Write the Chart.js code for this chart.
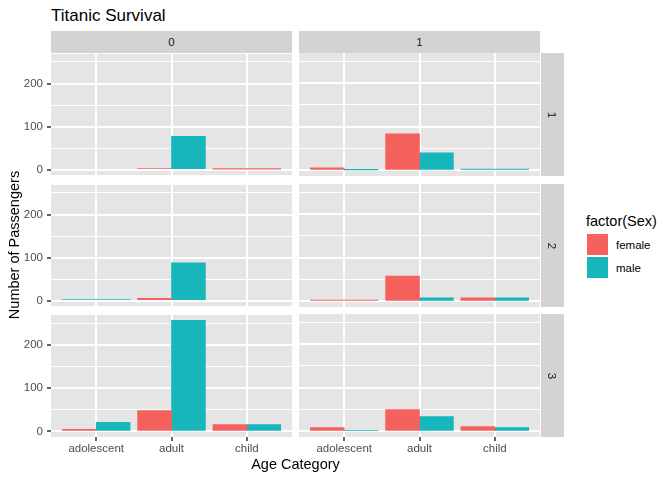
<!DOCTYPE html>
<html><head><meta charset="utf-8">
<script src="https://cdn.jsdelivr.net/npm/chart.js@4.4.1/dist/chart.umd.min.js"></script>
<style>
html,body{margin:0;padding:0;background:#fff;}
#fig{position:relative;width:672px;height:480px;overflow:hidden;background:#fff;font-family:'Liberation Sans',Arial,Helvetica,sans-serif;color:#000;}
#fig canvas{position:absolute;}
.box{position:absolute;display:flex;align-items:center;justify-content:center;white-space:nowrap;}
</style></head><body><div id="fig"></div>
<script>
// ---------- data ----------
const categories = ['adolescent', 'adult', 'child'];
const survivedLevels = ['0', '1'];
const pclassLevels = ['1', '2', '3'];
const sexLevels = ['female', 'male'];
const yTickLabels = [0, 100, 200];

// counts by panel: Pclass (row) x Survived (column), per age category
const female_p1_s0 = [null, 2, 1];
const female_p1_s1 = [6, 84, null];
const female_p2_s0 = [null, 5, null];
const female_p2_s1 = [3, 58, 8];
const female_p3_s0 = [5, 48, 16];
const female_p3_s1 = [9, 50, 11];

const male_p1_s0 = [null, 77, null];
const male_p1_s1 = [1, 40, 3];
const male_p2_s0 = [2, 88, null];
const male_p2_s1 = [null, 8, 8];
const male_p3_s0 = [21, 256, 16];
const male_p3_s1 = [2, 34, 9];

const femaleGrid = [[female_p1_s0, female_p1_s1], [female_p2_s0, female_p2_s1], [female_p3_s0, female_p3_s1]];
const maleGrid = [[male_p1_s0, male_p1_s1], [male_p2_s0, male_p2_s1], [male_p3_s0, male_p3_s1]];

// ---------- styles / layout ----------
const PANEL_BG = '#E5E5E5', STRIP_BG = '#D3D3D3';
const RED = '#F5615C', TEAL = '#17B6BB';
const colLeft = [51, 299], panelW = 241;
const rowTop = [53, 184, 314], panelH = 123;
const PAD = 10, YAXW = 51, XAXH = 24;
const X_MIN = 0.4, X_MAX = 3.6, Y_MIN = -12.8, Y_MAX = 268.8;
const DODGE = 0.45;
const FONT = "'Liberation Sans', Arial, Helvetica, sans-serif";
Chart.defaults.font.family = FONT;

const fig = document.getElementById('fig');

function addBox(text, left, top, width, height, css) {
  const d = document.createElement('div');
  d.className = 'box';
  d.style.left = left + 'px'; d.style.top = top + 'px';
  d.style.width = width + 'px'; d.style.height = height + 'px';
  Object.assign(d.style, css || {});
  if (text !== null) {
    const s = document.createElement('span');
    s.textContent = text;
    if (css && css.rot) s.style.transform = 'rotate(' + css.rot + ')';
    d.appendChild(s);
  }
  fig.appendChild(d);
  return d;
}

const panelBgPlugin = {
  id: 'panelBg',
  beforeDraw(chart) {
    const { ctx, chartArea: a } = chart;
    ctx.save();
    ctx.fillStyle = PANEL_BG;
    ctx.fillRect(a.left, a.top, a.right - a.left, a.bottom - a.top);
    ctx.restore();
  }
};

function thickness(units) {
  return ctx => {
    const s = ctx.chart.scales && ctx.chart.scales.x;
    return s ? Math.abs(s.getPixelForValue(X_MIN + units) - s.getPixelForValue(X_MIN)) : 10;
  };
}

function panelDatasets(f, m) {
  const fHalf = [], mHalf = [], fFull = [], mFull = [];
  categories.forEach((c, i) => {
    const x = i + 1, fv = f[i], mv = m[i];
    if (fv != null && mv != null) {
      fHalf.push({ x: x - DODGE / 2, y: fv });
      mHalf.push({ x: x + DODGE / 2, y: mv });
    } else if (fv != null) {
      fFull.push({ x: x, y: fv });
    } else if (mv != null) {
      mFull.push({ x: x, y: mv });
    }
  });
  return [
    { label: sexLevels[0], data: fHalf, backgroundColor: RED, barThickness: thickness(DODGE) },
    { label: sexLevels[1], data: mHalf, backgroundColor: TEAL, barThickness: thickness(DODGE) },
    { label: sexLevels[0], data: fFull, backgroundColor: RED, barThickness: thickness(2 * DODGE) },
    { label: sexLevels[1], data: mFull, backgroundColor: TEAL, barThickness: thickness(2 * DODGE) }
  ].map(d => Object.assign(d, { grouped: false, borderWidth: 0 }));
}

function makePanel(r, c) {
  const isLeft = c === 0, isBottom = r === pclassLevels.length - 1;
  const axW = isLeft ? YAXW : 0, axH = isBottom ? XAXH : 0;
  const w = panelW + axW + 2 * PAD, h = panelH + axH + 2 * PAD;
  const canvas = document.createElement('canvas');
  canvas.width = w; canvas.height = h;
  canvas.style.width = w + 'px'; canvas.style.height = h + 'px';
  canvas.style.left = (colLeft[c] - axW - PAD) + 'px';
  canvas.style.top = (rowTop[r] - PAD) + 'px';
  fig.appendChild(canvas);
  new Chart(canvas, {
    type: 'bar',
    data: { datasets: panelDatasets(femaleGrid[r][c], maleGrid[r][c]) },
    options: {
      responsive: false, animation: false, devicePixelRatio: 1,
      layout: { padding: PAD },
      plugins: { legend: { display: false }, tooltip: { enabled: false } },
      scales: {
        x: {
          type: 'linear', min: X_MIN, max: X_MAX, offset: false,
          grid: { offset: false, color: '#FFFFFF', lineWidth: 2, drawTicks: isBottom, tickLength: 4, tickColor: '#333333', tickWidth: 1.5 },
          border: { display: false },
          ticks: { display: isBottom, stepSize: 1, includeBounds: false, autoSkip: false, maxRotation: 0, minRotation: 0, padding: 1, color: '#4D4D4D', font: { size: 11.5 },
            callback: v => categories[v - 1] !== undefined ? categories[v - 1] : '' },
          afterFit: s => { s.height = axH; }
        },
        y: {
          type: 'linear', min: Y_MIN, max: Y_MAX,
          grid: { color: '#FFFFFF',
            lineWidth: ctx => (ctx.tick && yTickLabels.includes(ctx.tick.value)) ? 2 : 1,
            drawTicks: isLeft, tickLength: 4,
            tickColor: ctx => (ctx.tick && yTickLabels.includes(ctx.tick.value)) ? '#333333' : 'rgba(0,0,0,0)',
            tickWidth: 1.5 },
          border: { display: false },
          ticks: { display: isLeft, stepSize: 50, includeBounds: false, autoSkip: false, padding: 4, color: '#4D4D4D', font: { size: 11.5 },
            callback: v => yTickLabels.includes(v) ? String(v) : '' },
          afterFit: s => { s.width = axW; }
        }
      }
    },
    plugins: [panelBgPlugin]
  });
}

for (let r = 0; r < pclassLevels.length; r++)
  for (let c = 0; c < survivedLevels.length; c++) makePanel(r, c);

// strips
survivedLevels.forEach((lab, c) => {
  addBox(lab, colLeft[c], 31, panelW, 22, { background: STRIP_BG, color: '#1A1A1A', fontSize: '11.5px' });
});
pclassLevels.forEach((lab, r) => {
  addBox(lab, 541, rowTop[r], 23, panelH, { background: STRIP_BG, color: '#1A1A1A', fontSize: '11.5px', rot: '90deg' });
});

// title and axis titles
addBox('Titanic Survival', 51, 2, 300, 28, { justifyContent: 'flex-start', fontSize: '17px', lineHeight: '28px' });
addBox('Age Category', colLeft[0], 454, colLeft[1] + panelW - colLeft[0], 20, { fontSize: '14.5px' });
addBox('Number of Passengers', 14 - 150, 245 - 10, 300, 20, { fontSize: '14.5px', transform: 'rotate(-90deg)' });

// legend
addBox('factor(Sex)', 586, 211, 100, 20, { justifyContent: 'flex-start', fontSize: '14.5px' });
[RED, TEAL].forEach((col, i) => {
  addBox(null, 587, 234 + i * 23, 21, 21, { background: col });
  addBox(sexLevels[i], 616, 234 + i * 23, 60, 21, { justifyContent: 'flex-start', fontSize: '11.5px' });
});
</script>
</body></html>
